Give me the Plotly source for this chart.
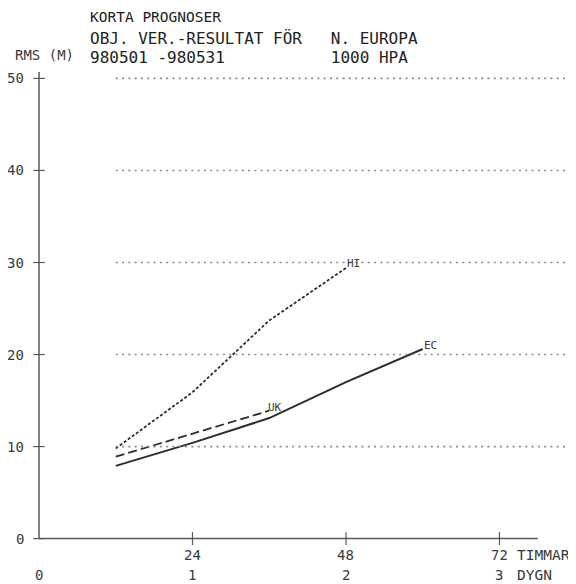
import plotly.graph_objects as go

# ---- data ----
hours_hi = [12, 24, 36, 48]
rms_hi = [9.8, 15.9, 23.7, 29.4]
hours_uk = [12, 24, 36]
rms_uk = [8.9, 11.4, 13.9]
hours_ec = [12, 24, 36, 48, 60]
rms_ec = [7.9, 10.4, 13.1, 17.0, 20.6]

y_ticks = [0, 10, 20, 30, 40, 50]
x_ticks = [24, 48, 72]
x_tick_labels = ["24", "48", "72"]
day_ticks = [0, 24, 48, 72]
day_labels = ["0", "1", "2", "3"]

title1 = "KORTA PROGNOSER"
title2 = "OBJ. VER.-RESULTAT FÖR" + "\u00a0" * 3 + "N. EUROPA"
title3 = "980501 -980531" + "\u00a0" * 11 + "1000 HPA"
ylabel = "RMS (M)"
xunit1 = "TIMMAR"
xunit2 = "DYGN"

INK = "#2a2f2a"
AXC = "#555a55"
GRIDC = "#8a8a8a"
TXT = "#3a3a3a"
FONT = "DejaVu Sans Mono"

fig = go.Figure()

fig.add_trace(go.Scatter(x=hours_hi, y=rms_hi, mode="lines",
                         line=dict(color=INK, width=1.8, dash="3px,2px"), name="HI"))
fig.add_trace(go.Scatter(x=hours_uk, y=rms_uk, mode="lines",
                         line=dict(color=INK, width=1.8, dash="9px,4px"), name="UK"))
fig.add_trace(go.Scatter(x=hours_ec, y=rms_ec, mode="lines",
                         line=dict(color=INK, width=2), name="EC"))

shapes = []
for v in y_ticks[1:]:
    shapes.append(dict(type="line", xref="x", yref="y", x0=12, x1=84, y0=v, y1=v,
                       line=dict(color=GRIDC, width=1.6, dash="2px,4.3px")))
shapes.append(dict(type="line", xref="x", yref="y", x0=0, x1=0, y0=0, y1=50.7,
                   line=dict(color=AXC, width=1.5)))
shapes.append(dict(type="line", xref="x", yref="y", x0=0, x1=78, y0=0, y1=0,
                   line=dict(color=AXC, width=1.5)))
for v in y_ticks:
    shapes.append(dict(type="line", xref="x", yref="y", x0=-0.9, x1=0.9, y0=v, y1=v,
                       line=dict(color=AXC, width=1.2)))
for v in x_ticks:
    shapes.append(dict(type="line", xref="x", yref="y", x0=v, x1=v, y0=-0.7, y1=0.7,
                       line=dict(color=AXC, width=1.2)))

ann = []
def txt(x, y, t, size=14, xa="left", ya="middle", color=TXT, **kw):
    ann.append(dict(x=x, y=y, xref="x", yref="y", text=t, showarrow=False,
                    xanchor=xa, yanchor=ya, font=dict(family=FONT, size=size, color=color), **kw))

for v in y_ticks:
    txt(-2.1, v, str(v), xa="right")
for v, t in zip(x_ticks, x_tick_labels):
    txt(v, -1.8, t, xa="center")
for v, t in zip(day_ticks, day_labels):
    txt(v, -3.95, t, xa="center")
txt(74.5, -1.8, xunit1, size=14.5)
txt(74.5, -3.95, xunit2, size=14.5)

txt(hours_hi[-1], rms_hi[-1], "HI", size=11, ya="bottom", xshift=-1, yshift=-4)
txt(hours_uk[-1], rms_uk[-1], "UK", size=11, ya="bottom", xshift=-3, yshift=-5)
txt(hours_ec[-1], rms_ec[-1], "EC", size=11, ya="bottom", xshift=-1, yshift=-5)

# header (page px -> data: x=(px-39)/6.395, y=(538.6-py)/9.204)
txt(7.7, 56.7, title1, size=14.5, color="#222")
header = ('<span style="font-size:16px">' + title2 + '</span><br>'
          '<span style="font-size:16px">' + title3 + '</span>')
txt(7.7, 53.32, header, size=14.4, color="#222", align="left")
txt(-4.1, 52.5, ylabel, size=14)

# page body has an 8px margin: figure spans page px 8..576 x 8..584
fig.update_layout(
    width=568, height=576,
    margin=dict(l=0, r=0, t=0, b=0),
    paper_bgcolor="white", plot_bgcolor="white",
    showlegend=False,
    xaxis=dict(range=[-4.85, 83.97], visible=False, fixedrange=True),
    yaxis=dict(range=[-4.93, 57.65], visible=False, fixedrange=True),
    shapes=shapes, annotations=ann,
)

fig.write_html("out.html")
